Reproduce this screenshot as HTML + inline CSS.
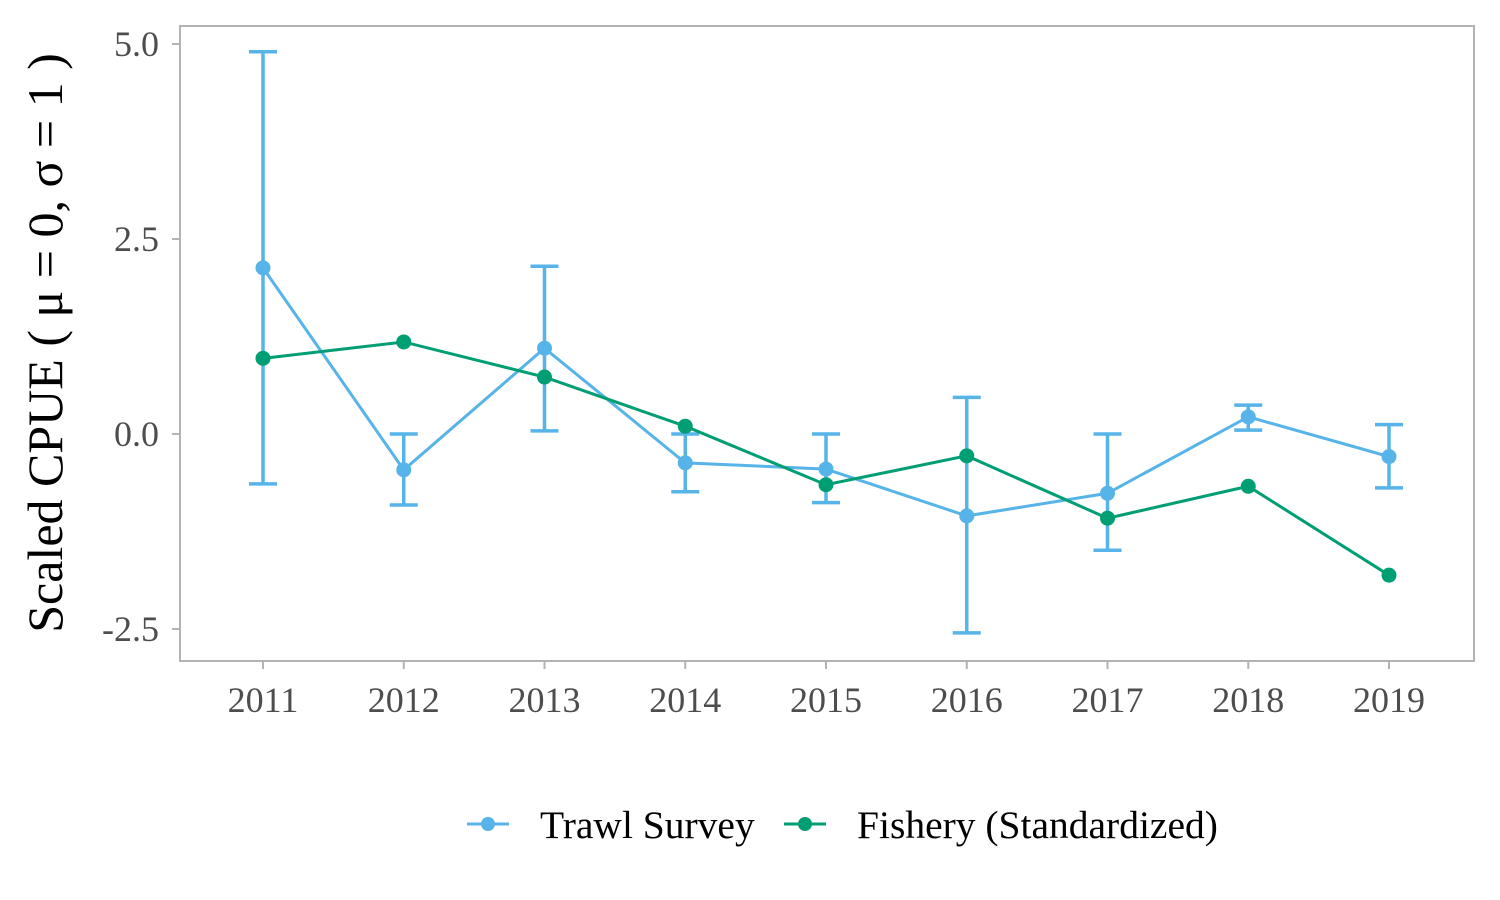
<!DOCTYPE html>
<html><head><meta charset="utf-8"><style>body{margin:0;background:#fff}svg{display:block}</style></head>
<body>
<svg id="chart" width="1500" height="900" xmlns="http://www.w3.org/2000/svg" font-family="'Liberation Serif', serif">
<rect x="180" y="26" width="1294" height="635" fill="none" stroke="#b3b3b3" stroke-width="2"/>
<g id="axes"></g>
<g id="marks"></g>
<text transform="translate(62,343) rotate(-90)" text-anchor="middle" font-size="50" fill="#000">Scaled CPUE ( μ = 0, σ = 1 )</text>
<g>
<g>
<line x1="467" y1="824" x2="509" y2="824" stroke="#56B4E9" stroke-width="3"/><circle cx="488" cy="824" r="7" fill="#56B4E9"/>
<text x="540" y="838" font-size="39.5" fill="#000">Trawl Survey</text></g>
<g>
<line x1="784" y1="824" x2="826" y2="824" stroke="#009E73" stroke-width="3"/><circle cx="805" cy="824" r="7" fill="#009E73"/>
<text x="857" y="838" font-size="39.5" fill="#000">Fishery (Standardized)</text></g>
</g>
</svg>
<script>
const years = [2011,2012,2013,2014,2015,2016,2017,2018,2019];
const trawl = [2.13,-0.46,1.10,-0.37,-0.45,-1.05,-0.76,0.22,-0.29];
const trawlHi = [4.9,0.0,2.15,0.0,0.0,0.47,0.0,0.37,0.12];
const trawlLo = [-0.64,-0.91,0.04,-0.74,-0.88,-2.55,-1.49,0.05,-0.69];
const fishery = [0.97,1.18,0.73,0.10,-0.65,-0.28,-1.08,-0.67,-1.81];
const yTicks = [5.0,2.5,0.0,-2.5];
const yTickLabels = ["5.0","2.5","0.0","-2.5"];
const NS="http://www.w3.org/2000/svg";
const xs = i => 263 + i*140.75;
const ys = v => 434 - v*78;
function mk(tag, attrs, parent){const e=document.createElementNS(NS,tag);for(const k in attrs)e.setAttribute(k,attrs[k]);parent.appendChild(e);return e;}
const axes=document.getElementById('axes'), marks=document.getElementById('marks');
yTicks.forEach((t,i)=>{
  const l=mk('line',{x1:172,x2:180,y1:ys(t),y2:ys(t),stroke:'#b3b3b3','stroke-width':2},axes);
  
  
  const tx=mk('text',{x:159,y:ys(t)+12,'text-anchor':'end','font-size':36,fill:'#4d4d4d'},axes);
  tx.textContent=yTickLabels[i];
  
  
});
years.forEach((y,i)=>{
  const l=mk('line',{x1:xs(i),x2:xs(i),y1:661,y2:669,stroke:'#b3b3b3','stroke-width':2},axes);
  
  
  const tx=mk('text',{x:xs(i),y:712,'text-anchor':'middle','font-size':36,fill:'#4d4d4d'},axes);
  tx.textContent=y;
  
  
});
years.forEach((y,i)=>{
  const g=mk('g',{stroke:'#56B4E9','stroke-width':3.5,fill:'none'},marks);
  
  
  mk('line',{x1:xs(i),x2:xs(i),y1:ys(trawlHi[i]),y2:ys(trawlLo[i])},g);
  mk('line',{x1:xs(i)-14,x2:xs(i)+14,y1:ys(trawlHi[i]),y2:ys(trawlHi[i])},g);
  mk('line',{x1:xs(i)-14,x2:xs(i)+14,y1:ys(trawlLo[i]),y2:ys(trawlLo[i])},g);
});
function series(vals,color,name){
  const p=mk('polyline',{points:vals.map((v,i)=>xs(i)+','+ys(v)).join(' '),fill:'none',stroke:color,'stroke-width':3},marks);
  
  
  vals.forEach((v,i)=>{
    const c=mk('circle',{cx:xs(i),cy:ys(v),r:7.5,fill:color},marks);
    
    
  });
}
series(trawl,'#56B4E9','trawl');
series(fishery,'#009E73','fishery');
</script>
</body></html>
